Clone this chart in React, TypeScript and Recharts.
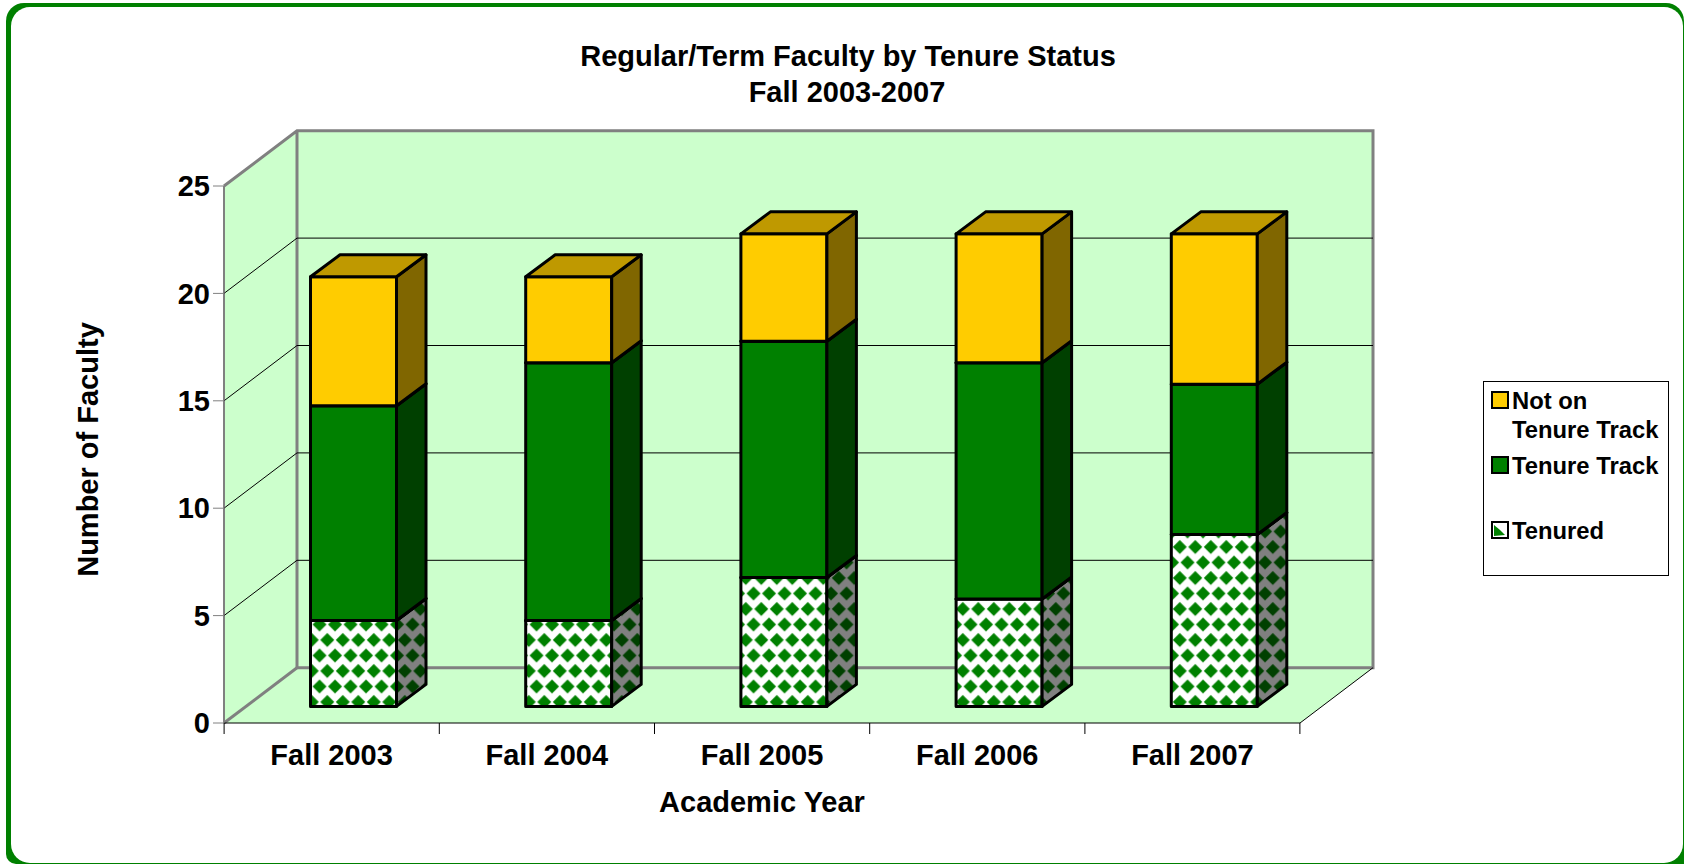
import React from "react";
import { BarChart, Bar, XAxis, YAxis, Legend, Label, ReferenceArea, ReferenceLine } from "recharts";

const categories = ["Fall 2003", "Fall 2004", "Fall 2005", "Fall 2006", "Fall 2007"];
const tenured = [4, 4, 6, 5, 8];
const tenureTrack = [10, 12, 11, 11, 7];
const notOnTrack = [6, 4, 5, 6, 7];
const yTicks = [0, 5, 10, 15, 20, 25];
const gridValues = [5, 10, 15, 20];

const data = categories.map((name, i) => ({
  name,
  tenured: tenured[i],
  tenureTrack: tenureTrack[i],
  notOnTrack: notOnTrack[i],
}));

const FONT = "'Liberation Sans', Arial, sans-serif";
const WALL = "#CCFFCC";
const EDGE = "#808080";
const TEXT_SIZE = 29;
// wall depth
const DX = 73;
const DY = -55.3;
// bars sit part way into the floor
const BAR_DX = 21.5;
const BAR_DY = -16.6;
const BAR_DEPTH_X = 29.5;
const BAR_DEPTH_Y = -22;
const PLOT_WIDTH = 1075;

const Walls = (props: any) => {
  const { x, y, width, height } = props;
  const r = x + width;
  const b = y + height;
  return (
    <g>
      <polygon
        points={`${x},${y} ${x + DX},${y + DY} ${r + DX},${y + DY} ${r + DX},${b + DY} ${r},${b} ${x},${b}`}
        fill={WALL}
      />
      <path
        d={`M${x},${y} L${x + DX},${y + DY} L${r + DX},${y + DY} L${r + DX},${b + DY} L${x + DX},${b + DY} L${x + DX},${y + DY}`}
        fill="none"
        stroke={EDGE}
        strokeWidth={3}
      />
      <line x1={x} y1={b} x2={x + DX} y2={b + DY} stroke={EDGE} strokeWidth={3} />
      <line x1={r} y1={b} x2={r + DX} y2={b + DY} stroke="#000" strokeWidth={1} />
      <line x1={x} y1={y} x2={x} y2={b} stroke={EDGE} strokeWidth={2} />
    </g>
  );
};

const GridLine = (props: any) => {
  const { x1, y1, x2, y2 } = props;
  return (
    <path
      d={`M${x1},${y1} L${x1 + DX},${y1 + DY} L${x2 + DX},${y2 + DY}`}
      fill="none"
      stroke="#000"
      strokeWidth={1}
    />
  );
};

const makeBox = (front: string, side: string, top: string) => (props: any) => {
  const { x, y, width, height } = props;
  const l = x + BAR_DX;
  const t = y + BAR_DY;
  const r = l + width;
  const b = t + height;
  const common = { stroke: "#000", strokeWidth: 3, strokeLinejoin: "round" as const };
  return (
    <g>
      <rect x={l} y={t} width={width} height={height} fill={front} {...common} />
      <polygon
        points={`${r},${t} ${r + BAR_DEPTH_X},${t + BAR_DEPTH_Y} ${r + BAR_DEPTH_X},${b + BAR_DEPTH_Y} ${r},${b}`}
        fill={side}
        {...common}
      />
      <polygon
        points={`${l},${t} ${l + BAR_DEPTH_X},${t + BAR_DEPTH_Y} ${r + BAR_DEPTH_X},${t + BAR_DEPTH_Y} ${r},${t}`}
        fill={top}
        {...common}
      />
    </g>
  );
};

const CategoryTick = (props: any) => {
  const { x, y, payload, index } = props;
  const band = PLOT_WIDTH / categories.length;
  return (
    <g>
      <line x1={x - band / 2} y1={723} x2={x - band / 2} y2={734} stroke="#000" />
      {index === categories.length - 1 && (
        <line x1={x + band / 2} y1={723} x2={x + band / 2} y2={734} stroke="#000" />
      )}
      <text x={x} y={y + 34} textAnchor="middle" fontFamily={FONT} fontWeight={700} fontSize={TEXT_SIZE} fill="#000">
        {payload.value}
      </text>
    </g>
  );
};

const YTitle = (props: any) => {
  const { viewBox } = props;
  const x = viewBox.x - 52;
  const y = viewBox.y + viewBox.height / 2 - 5;
  return (
    <text
      x={x}
      y={y}
      transform={`rotate(-90 ${x} ${y})`}
      textAnchor="middle"
      fontFamily={FONT}
      fontWeight={700}
      fontSize={TEXT_SIZE}
      fill="#000"
    >
      Number of Faculty
    </text>
  );
};

const LegendBox = ({ payload }: any) => {
  const tops = [3.5, 68.5, 134];
  return (
    <div
      style={{
        position: "relative",
        width: 186,
        height: 195,
        boxSizing: "border-box",
        border: "1px solid #000",
        background: "#fff",
        fontFamily: FONT,
        fontWeight: 700,
        fontSize: 23.8,
        lineHeight: "29px",
        color: "#000",
      }}
    >
      {(payload || []).map((row: any, i: number) => (
        <div key={row.value} style={{ position: "absolute", left: 7, top: tops[i], paddingLeft: 21, width: 152 }}>
          <div style={{ position: "absolute", left: 0, top: 5 }}>
            <svg width={18} height={18} style={{ display: "block" }}>
              {row.value === "Tenured" ? (
                <>
                  <rect x={1} y={1} width={16} height={16} fill="#fff" stroke="#000" strokeWidth={2} />
                  <polygon points="3,4 9,9 14,14 3,15" fill="#008000" />
                </>
              ) : (
                <rect x={1} y={1} width={16} height={16} fill={row.color} stroke="#000" strokeWidth={2} />
              )}
            </svg>
          </div>
          {row.value}
        </div>
      ))}
    </div>
  );
};

const App = () => {
  return (
    <div style={{ position: "absolute", left: 0, top: 0, width: 1684, height: 864, background: "#fff", overflow: "hidden" }}>
      <div
        style={{
          position: "absolute",
          left: 6,
          top: 3,
          width: 1678,
          height: 861,
          background: "#008000",
          borderRadius: "18px 18px 0 10px",
        }}
      />
      <div
        style={{
          position: "absolute",
          left: 10.5,
          top: 7.3,
          width: 1672.5,
          height: 855.5,
          background: "#fff",
          borderRadius: 19,
        }}
      />
      <BarChart
        width={1684}
        height={864}
        data={data}
        barSize={86}
        margin={{ top: 186, right: 198, bottom: 52, left: 150 }}
        style={{ position: "absolute", left: 0, top: 0 }}
      >
        <defs>
          <pattern id="checkFront" width={15.5} height={31} patternUnits="userSpaceOnUse" patternTransform="translate(-5.95,12.25)">
            <rect width={15.5} height={31} fill="#fff" />
            <polygon points="7.75,0.75 14.75,7.75 7.75,14.75 0.75,7.75" fill="#008000" />
            <polygon points="0,16.25 7,23.25 0,30.25 -7,23.25" fill="#008000" />
            <polygon points="15.5,16.25 22.5,23.25 15.5,30.25 8.5,23.25" fill="#008000" />
          </pattern>
          <pattern id="checkSide" width={15.5} height={31} patternUnits="userSpaceOnUse" patternTransform="translate(-5.95,12.25)">
            <rect width={15.5} height={31} fill="#808080" />
            <polygon points="7.75,0.75 14.75,7.75 7.75,14.75 0.75,7.75" fill="#004000" />
            <polygon points="0,16.25 7,23.25 0,30.25 -7,23.25" fill="#004000" />
            <polygon points="15.5,16.25 22.5,23.25 15.5,30.25 8.5,23.25" fill="#004000" />
          </pattern>
        </defs>
        <text x={848} y={56} dy={10} textAnchor="middle" fontFamily={FONT} fontWeight={700} fontSize={TEXT_SIZE} fill="#000">
          Regular/Term Faculty by Tenure Status
        </text>
        <text x={847} y={92} dy={10} textAnchor="middle" fontFamily={FONT} fontWeight={700} fontSize={TEXT_SIZE} fill="#000">
          Fall 2003-2007
        </text>
        <ReferenceArea y1={0} y2={25} shape={Walls} zIndex={-100} />
        {gridValues.map((v) => (
          <ReferenceLine key={v} y={v} shape={GridLine} zIndex={-50} />
        ))}
        <XAxis
          dataKey="name"
          height={89}
          stroke="#000"
          tickLine={false}
          interval={0}
          tick={<CategoryTick />}
          label={{
            value: "Academic Year",
            position: "insideBottom",
            offset: 0,
            fontFamily: FONT,
            fontWeight: 700,
            fontSize: TEXT_SIZE,
            fill: "#000",
          }}
        />
        <YAxis
          width={74}
          domain={[0, 25]}
          ticks={yTicks}
          stroke={EDGE}
          tickSize={11}
          tickMargin={3}
          tick={{ fontFamily: FONT, fontWeight: 700, fontSize: TEXT_SIZE, fill: "#000" }}
        >
          <Label content={<YTitle />} />
        </YAxis>
        <Legend
          layout="vertical"
          align="right"
          verticalAlign="top"
          wrapperStyle={{ left: 1483, top: 381, width: 186, height: 195 }}
          content={<LegendBox />}
        />
        <Bar
          dataKey="tenured"
          name="Tenured"
          stackId="a"
          fill="#008000"
          isAnimationActive={false}
          shape={makeBox("url(#checkFront)", "url(#checkSide)", "#008000")}
        />
        <Bar
          dataKey="tenureTrack"
          name="Tenure Track"
          stackId="a"
          fill="#008000"
          isAnimationActive={false}
          shape={makeBox("#008000", "#004000", "#006000")}
        />
        <Bar
          dataKey="notOnTrack"
          name="Not on Tenure Track"
          stackId="a"
          fill="#FFCC00"
          isAnimationActive={false}
          shape={makeBox("#FFCC00", "#806600", "#BF9900")}
        />
      </BarChart>
    </div>
  );
};

export default App;
